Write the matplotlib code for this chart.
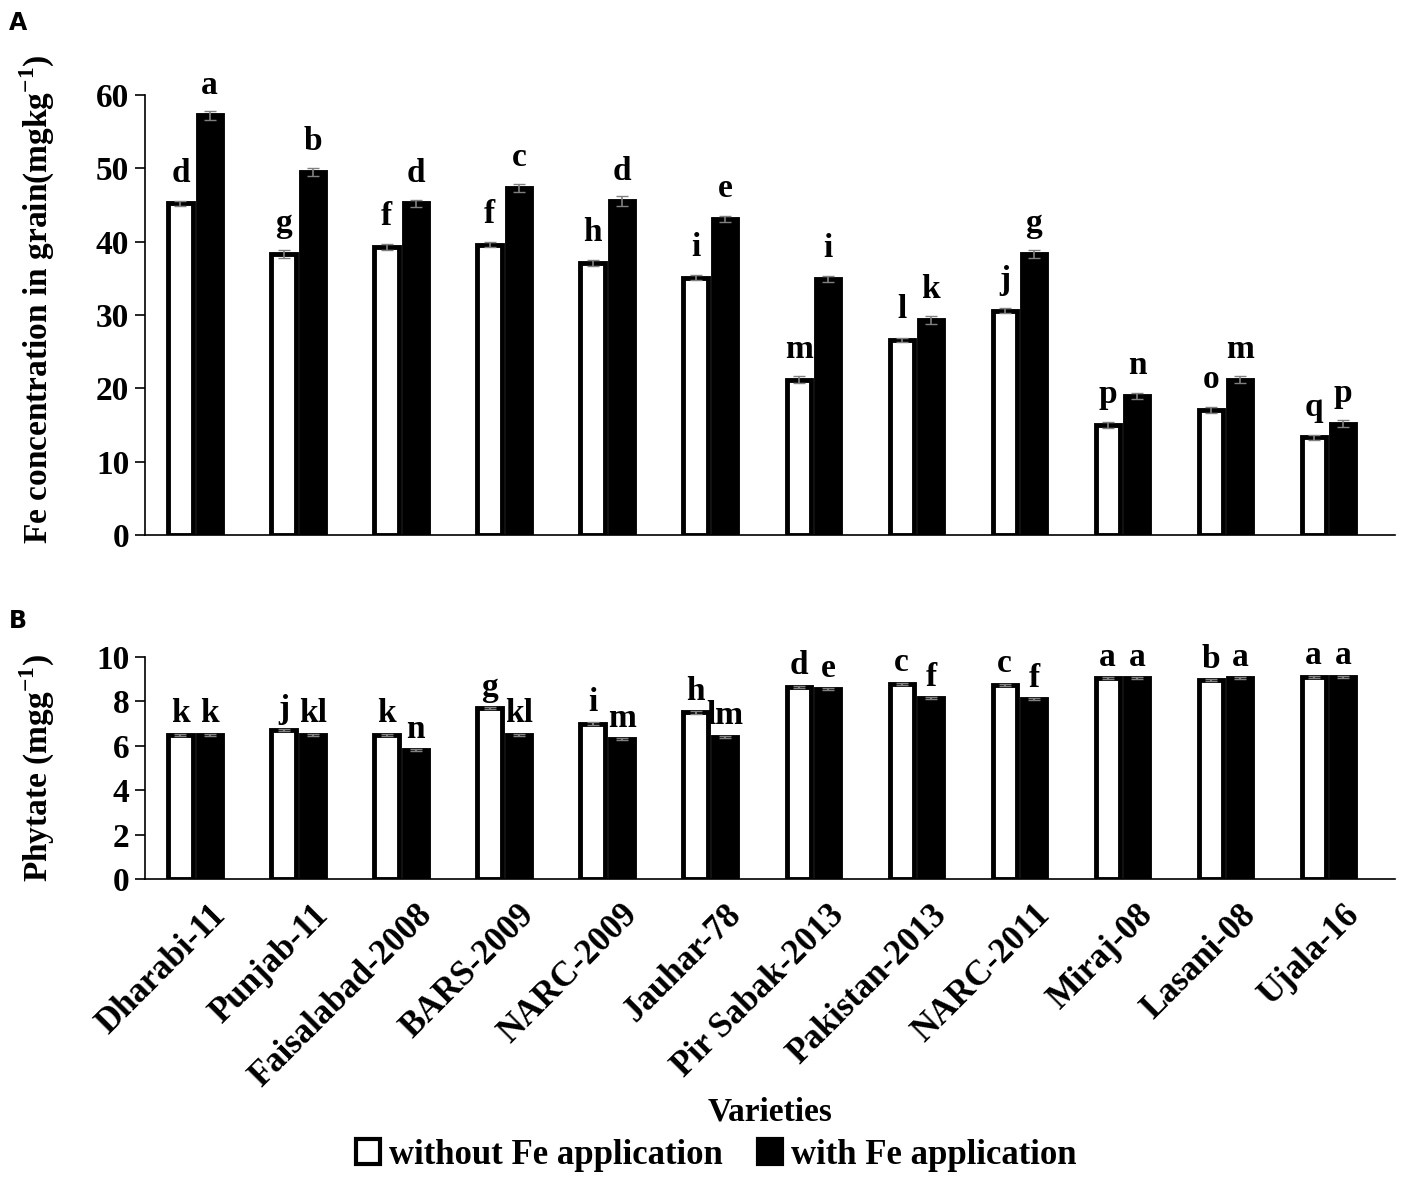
import numpy as np
import matplotlib
matplotlib.use("Agg")
import matplotlib.pyplot as plt
import matplotlib.transforms as mtransforms
from matplotlib.patches import Patch

plt.rcParams['font.family'] = ['Liberation Serif', 'DejaVu Serif']
plt.rcParams['font.weight'] = 'bold'
plt.rcParams['mathtext.fontset'] = 'custom'
plt.rcParams['mathtext.rm'] = 'Liberation Serif:bold'
plt.rcParams['mathtext.bf'] = 'Liberation Serif:bold'

varieties = ['Dharabi-11', 'Punjab-11', 'Faisalabad-2008', 'BARS-2009', 'NARC-2009',
             'Jauhar-78', 'Pir Sabak-2013', 'Pakistan-2013', 'NARC-2011', 'Miraj-08',
             'Lasani-08', 'Ujala-16']

# Fe concentration in grain (mg/kg)
fe_without = [45.2, 38.3, 39.3, 39.6, 37.1, 35.1, 21.2, 26.6, 30.6, 15.0, 17.1, 13.3]
fe_with = [57.2, 49.5, 45.2, 47.3, 45.5, 43.1, 34.9, 29.3, 38.3, 19.0, 21.2, 15.2]
fe_err_without = [0.4, 0.5, 0.4, 0.3, 0.4, 0.3, 0.5, 0.3, 0.3, 0.4, 0.4, 0.4]
fe_err_with = [0.6, 0.5, 0.5, 0.5, 0.7, 0.4, 0.4, 0.5, 0.5, 0.4, 0.5, 0.5]
fe_let_without = ['d', 'g', 'f', 'f', 'h', 'i', 'm', 'l', 'j', 'p', 'o', 'q']
fe_let_with = ['a', 'b', 'd', 'c', 'd', 'e', 'i', 'k', 'g', 'n', 'm', 'p']

# Phytate (mg/g)
ph_without = [6.5, 6.7, 6.5, 7.7, 7.0, 7.5, 8.65, 8.8, 8.75, 9.05, 8.95, 9.1]
ph_with = [6.5, 6.5, 5.8, 6.5, 6.3, 6.4, 8.55, 8.15, 8.1, 9.05, 9.05, 9.1]
ph_let_without = ['k', 'j', 'k', 'g', 'i', 'h', 'd', 'c', 'c', 'a', 'b', 'a']
ph_let_with = ['k', 'kl', 'n', 'kl', 'm', 'lm', 'e', 'f', 'f', 'a', 'a', 'a']

x = np.arange(len(varieties))
w = 0.235
off = 0.142
fs = 24

fig = plt.figure(figsize=(14.18, 11.81), dpi=100)
axA = fig.add_axes([0.102, 0.547, 0.882, 0.3726])
axB = fig.add_axes([0.102, 0.2557, 0.882, 0.188])


def style(ax):
    for s in ['top', 'right']:
        ax.spines[s].set_visible(False)
    ax.spines['left'].set_linewidth(1.2)
    ax.spines['bottom'].set_linewidth(1.2)
    ax.tick_params(axis='y', direction='out', length=7, width=1.2, labelsize=fs, pad=4)
    ax.set_xlim(-0.49, 11.65)


# Panel A
axA.bar(x - off, fe_without, w, color='white', edgecolor='black', linewidth=3.5,
        yerr=fe_err_without, ecolor='gray', capsize=4, error_kw={'elinewidth': 1.2})
axA.bar(x + off, fe_with, w, color='black', edgecolor='black', linewidth=3.5,
        yerr=fe_err_with, ecolor='gray', capsize=4, error_kw={'elinewidth': 1.2})
for i in range(len(x)):
    axA.text(x[i] - off, fe_without[i] + 2.0, fe_let_without[i], ha='center', va='bottom',
             fontsize=fs, fontweight='bold')
    axA.text(x[i] + off, fe_with[i] + 2.0, fe_let_with[i], ha='center', va='bottom',
             fontsize=fs, fontweight='bold', clip_on=False)
style(axA)
axA.set_ylim(0, 60)
axA.set_yticks(range(0, 61, 10))
axA.set_xticks([])
axA.set_ylabel('Fe concentration in grain(mgkg$^{-1}$)', fontsize=fs, fontweight='bold')
axA.yaxis.set_label_coords(-0.07, 0.535)

# Panel B
axB.bar(x - off, ph_without, w, color='white', edgecolor='black', linewidth=3.5,
        yerr=0.05, ecolor='gray', capsize=4)
axB.bar(x + off, ph_with, w, color='black', edgecolor='black', linewidth=3.5,
        yerr=0.05, ecolor='gray', capsize=4)
for i in range(len(x)):
    axB.text(x[i] - off, ph_without[i] + 0.25, ph_let_without[i], ha='center', va='bottom',
             fontsize=fs, fontweight='bold', clip_on=False)
    axB.text(x[i] + off, ph_with[i] + 0.25, ph_let_with[i], ha='center', va='bottom',
             fontsize=fs, fontweight='bold', clip_on=False)
style(axB)
axB.set_ylim(0, 10)
axB.set_yticks(range(0, 11, 2))
axB.set_xticks(x)
axB.set_xticklabels(varieties, rotation=45, ha='right', rotation_mode='anchor',
                    fontsize=25, fontweight='bold')
axB.tick_params(axis='x', length=0, pad=14)
shift = mtransforms.ScaledTranslation(0.14, 0, fig.dpi_scale_trans)
for lab in axB.get_xticklabels():
    lab.set_transform(lab.get_transform() + shift)
axB.set_ylabel('Phytate (mgg$^{-1}$)', fontsize=fs, fontweight='bold')
axB.yaxis.set_label_coords(-0.07, 0.5)
axB.set_xlabel('Varieties', fontsize=fs, fontweight='bold', labelpad=2)

fig.text(0.006, 0.975, 'A', fontsize=17, fontweight='bold', family='DejaVu Sans')
fig.text(0.006, 0.468, 'B', fontsize=17, fontweight='bold', family='DejaVu Sans')

handles = [Patch(facecolor='white', edgecolor='black', linewidth=3, label='without Fe application'),
           Patch(facecolor='black', edgecolor='black', linewidth=3, label='with Fe application')]
fig.legend(handles=handles, loc='center', bbox_to_anchor=(0.505, 0.022), ncol=2, frameon=False,
           prop={'size': 25, 'weight': 'bold'}, handlelength=0.7, handleheight=0.7,
           handletextpad=0.25, columnspacing=1.0)

fig.savefig('out.png', dpi=100)
